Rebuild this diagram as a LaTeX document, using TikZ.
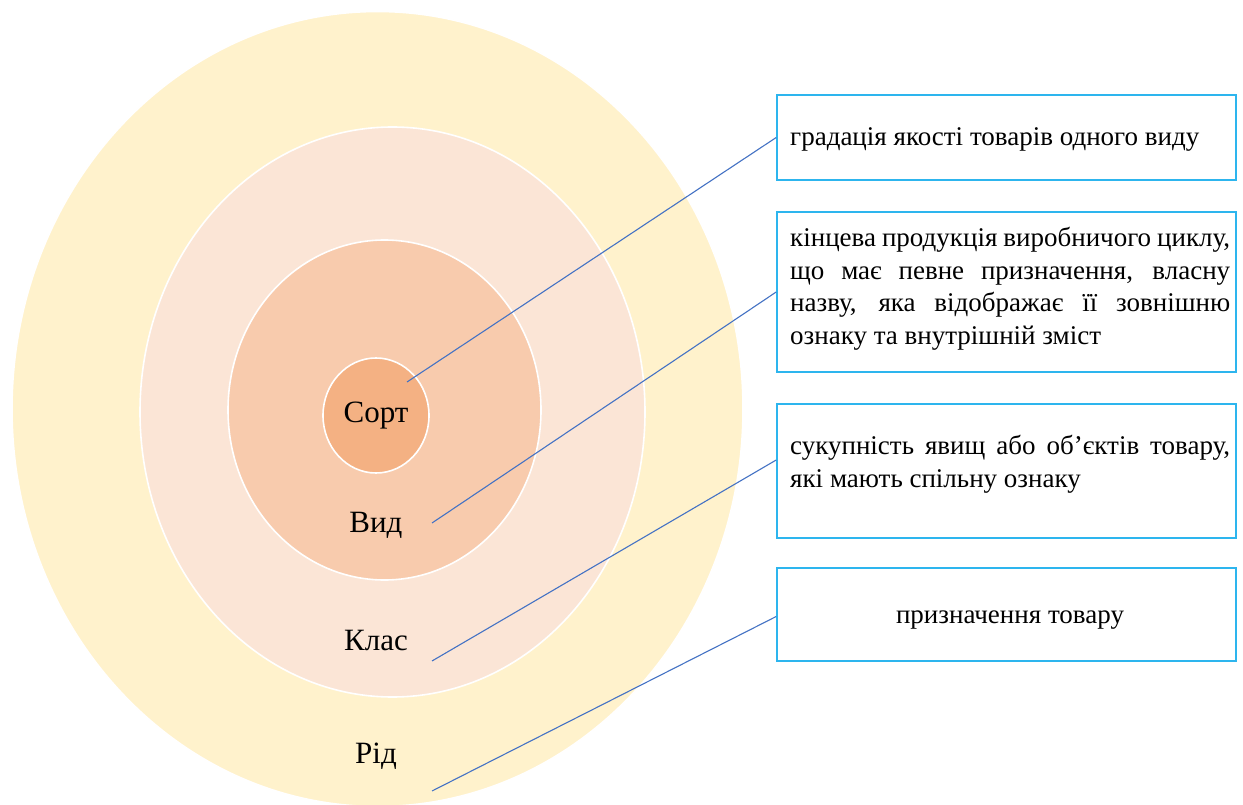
\documentclass[tikz,border=0pt]{standalone}
\usepackage{fontspec}
\setmainfont{Liberation Serif}
\usetikzlibrary{shapes.geometric,calc}
\definecolor{ringRid}{HTML}{FFF2CC}
\definecolor{ringKlas}{HTML}{FBE5D6}
\definecolor{ringVyd}{HTML}{F8CBAD}
\definecolor{ringSort}{HTML}{F4B183}
\definecolor{boxline}{HTML}{2DB5EE}
\definecolor{leader}{HTML}{4472C4}
\tikzset{
  ring/.style={ellipse, draw=white, line width=1.6pt, inner sep=0pt},
  ringlabel/.style={anchor=base, inner sep=0pt, font=\fontsize{31}{36}\selectfont},
  defbox/.style={rectangle, draw=boxline, line width=1.6pt, fill=white,
                 minimum width=459pt, inner sep=0pt},
  deftext/.style={anchor=north west, inner sep=0pt, text width=440pt,
                  align=justify, font=\fontsize{27}{32.5}\selectfont},
  leaderline/.style={draw=leader, line width=1.1pt}
}
\begin{document}
\begin{tikzpicture}[x=1pt,y=-1pt]
\useasboundingbox (0,0) rectangle (1243,805);
\fill[white] (0,0) rectangle (1243,805);

% nested rings
\node[ring, fill=ringRid,  minimum width=731pt, minimum height=795pt] (rid)  at (377.5,409) {};
\node[ring, fill=ringKlas, minimum width=505pt, minimum height=570pt] (klas) at (392.5,412) {};
\node[ring, fill=ringVyd,  minimum width=313pt, minimum height=340pt] (vyd)  at (384.5,410) {};
\node[ring, fill=ringSort, minimum width=106pt, minimum height=115pt] (sort) at (376,415.5) {};

% ring labels
\node[ringlabel] (lsort) at (376,422) {Сорт};
\node[ringlabel] (lvyd)  at (376,532) {Вид};
\node[ringlabel] (lklas) at (376,650) {Клас};
\node[ringlabel] (lrid)  at (376,763) {Рід};

% definition boxes
\node[defbox, minimum height=85pt]  (b1) at (1006.5,137.5) {};
\node[defbox, minimum height=160pt] (b2) at (1006.5,292) {};
\node[defbox, minimum height=134pt] (b3) at (1006.5,471) {};
\node[defbox, minimum height=93pt]  (b4) at (1006.5,614.5) {};

\node[deftext] (t1) at (790,127) {градація якості товарів одного виду};
\node[deftext] (t2) at (790,227) {кінцева продукція виробничого циклу, що має певне призначення, власну назву, яка відображає її зовнішню ознаку та внутрішній зміст};
\node[deftext] (t3) at (790,435) {сукупність явищ або об’єктів товару, які мають спільну ознаку};
\node[anchor=base, inner sep=0pt, font=\fontsize{27}{32.5}\selectfont] (t4) at (1010,623) {призначення товару};

% leader lines from the rings to their boxes
\coordinate (p1) at (407,382);
\coordinate (p2) at (432,523);
\coordinate (p3) at (432,661);
\coordinate (p4) at (432,791);
\draw[leaderline] (p1) -- (b1.west);
\draw[leaderline] (p2) -- (b2.west);
\draw[leaderline] (p3) -- ($(b3.west)+(0,-11)$);
\draw[leaderline] (p4) -- ($(b4.west)+(0,2)$);
\end{tikzpicture}
\end{document}
